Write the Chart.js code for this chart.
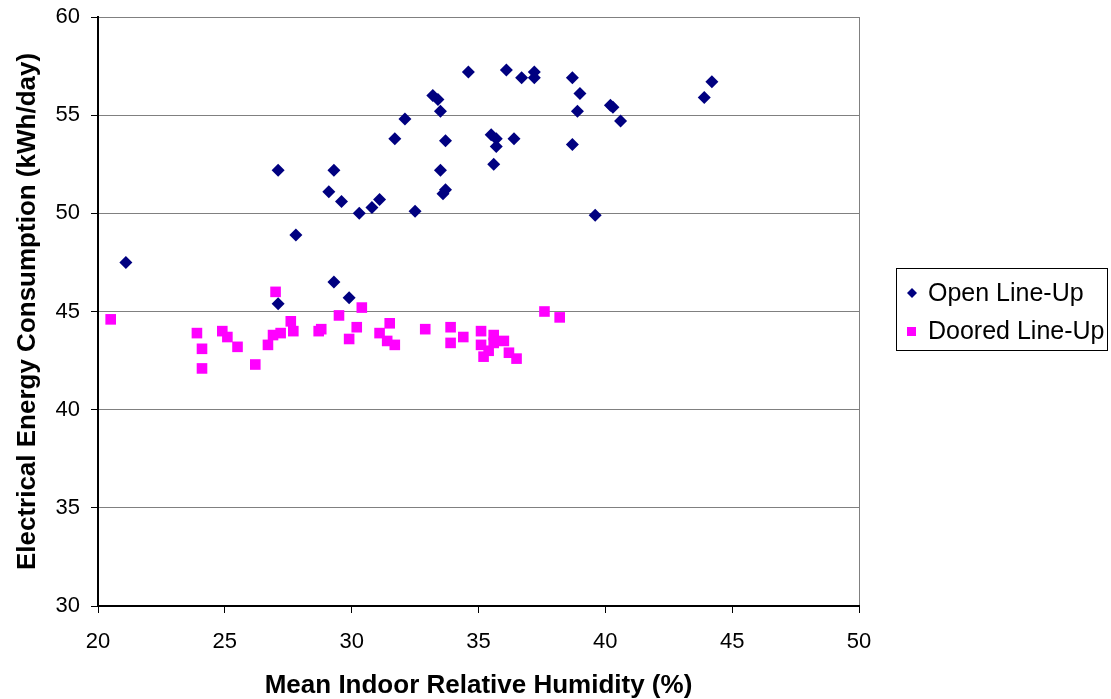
<!DOCTYPE html>
<html>
<head>
<meta charset="utf-8">
<script src="https://cdn.jsdelivr.net/npm/chart.js@4/dist/chart.umd.min.js"></script>
<style>
  html, body { margin: 0; padding: 0; background: #fff; }
  #wrap { width: 1111px; height: 699px; position: relative; }
</style>
</head>
<body>
<div id="wrap"><canvas id="grafico" width="1111" height="699"></canvas></div>
<script>
// dados
const openHumidity = [21.1, 27.1, 27.1, 27.8, 29.1, 29.3, 29.6, 29.3, 29.9, 30.3, 30.8, 31.1, 31.7, 32.1, 32.5,
  33.2, 33.4, 33.5, 33.7, 33.5, 33.7, 33.6, 34.6, 35.5, 35.7, 35.7, 35.6, 36.4, 36.1, 36.7, 37.2, 37.2,
  38.7, 39.0, 38.9, 38.7, 39.6, 40.2, 40.3, 40.6, 43.9, 44.2];
const openEnergy = [47.5, 52.2, 45.4, 48.9, 51.1, 52.2, 50.6, 46.5, 45.7, 50.0, 50.3, 50.7, 53.8, 54.8, 50.1,
  56.0, 55.8, 55.2, 53.7, 52.2, 51.2, 51.0, 57.2, 54.0, 53.8, 53.4, 52.5, 53.8, 57.3, 56.9, 57.2, 56.9,
  56.9, 56.1, 55.2, 53.5, 49.9, 55.5, 55.4, 54.7, 55.9, 56.7];

const dooredHumidity = [20.5, 23.9, 24.1, 24.1, 24.9, 25.1, 25.5, 26.2, 26.7, 26.9, 27.0, 27.2, 27.6, 27.7,
  28.7, 28.8, 29.5, 29.9, 30.2, 30.4, 31.1, 31.5, 31.4, 31.7, 32.9, 33.9, 33.9, 34.4, 35.1, 35.1, 35.2,
  35.4, 35.6, 35.6, 36.0, 36.2, 36.5, 37.6, 38.2];
const dooredEnergy = [44.6, 43.9, 43.1, 42.1, 44.0, 43.7, 43.2, 42.3, 43.3, 43.8, 46.0, 43.9, 44.5, 44.0,
  44.0, 44.1, 44.8, 43.6, 44.2, 45.2, 43.9, 44.4, 43.5, 43.3, 44.1, 44.2, 43.4, 43.7, 44.0, 43.3, 42.7,
  43.0, 43.8, 43.4, 43.5, 42.9, 42.6, 45.0, 44.7];

const seriesNames = ['Open Line-Up', 'Doored Line-Up'];
const xTicks = [20, 25, 30, 35, 40, 45, 50];
const yTicks = [30, 35, 40, 45, 50, 55, 60];

const FONTE = "'Liberation Sans', Arial, sans-serif";
const corOpen = '#000080';
const corDoored = '#FF00FF';

function pares(xs, ys) {
    return xs.map((x, i) => ({ x: x, y: ys[i] }));
}

// legenda com moldura, desenhada à mão no canvas
const legendaCaixa = {
    id: 'legendaCaixa',
    afterDraw(chart) {
        const ctx = chart.ctx;
        ctx.save();
        ctx.strokeStyle = '#000';
        ctx.lineWidth = 1;
        ctx.strokeRect(896.5, 268.5, 211, 82);

        ctx.fillStyle = corOpen;
        ctx.beginPath();
        ctx.moveTo(912, 288); ctx.lineTo(917, 293); ctx.lineTo(912, 298); ctx.lineTo(907, 293);
        ctx.closePath();
        ctx.fill();

        ctx.fillStyle = corDoored;
        ctx.fillRect(907, 327, 9, 9);

        ctx.fillStyle = '#000';
        ctx.font = '25px ' + FONTE;
        ctx.textBaseline = 'middle';
        ctx.textAlign = 'left';
        ctx.fillText(seriesNames[0], 928, 294);
        ctx.fillText(seriesNames[1], 928, 332);
        ctx.restore();
    }
};

const ctx = document.getElementById('grafico');
new Chart(ctx, {
    type: 'scatter',
    data: {
        datasets: [
            { label: seriesNames[0], data: pares(openHumidity, openEnergy), pointStyle: 'rectRot',
              pointRadius: 6.5, pointHoverRadius: 6.5, backgroundColor: corOpen, borderWidth: 0 },
            { label: seriesNames[1], data: pares(dooredHumidity, dooredEnergy), pointStyle: 'rect',
              pointRadius: 7.5, pointHoverRadius: 7.5, backgroundColor: corDoored, borderWidth: 0 }
        ]
    },
    options: {
        responsive: false,
        animation: false,
        events: [],
        layout: { padding: { left: 15, top: 17, right: 252, bottom: 0 } },
        plugins: { legend: { display: false }, tooltip: { enabled: false } },
        scales: {
            x: {
                type: 'linear', min: 20, max: 50,
                afterBuildTicks: s => { s.ticks = xTicks.map(v => ({ value: v })); },
                afterFit: s => { s.height = 93; s.paddingLeft = 0; s.paddingRight = 0; },
                ticks: { color: '#000', font: { family: FONTE, size: 22 }, padding: 16, maxRotation: 0 },
                grid: {
                    color: c => (c.tick && c.tick.value === 50 ? '#808080' : 'rgba(0,0,0,0)'),
                    tickColor: '#000', tickLength: 7, lineWidth: 1
                },
                border: { color: '#000', width: 2 },
                title: { display: true, text: 'Mean Indoor Relative Humidity (%)', color: '#000',
                         font: { family: FONTE, size: 26, weight: 'bold', lineHeight: 1 }, padding: 0 }
            },
            y: {
                type: 'linear', min: 30, max: 60,
                afterBuildTicks: s => { s.ticks = yTicks.map(v => ({ value: v })); },
                afterFit: s => { s.width = 83; s.paddingTop = 0; s.paddingBottom = 0; },
                ticks: { color: '#000', font: { family: FONTE, size: 22 }, padding: 11 },
                grid: { color: '#808080', tickColor: '#000', tickLength: 7, lineWidth: 1 },
                border: { color: '#000', width: 2 },
                title: { display: true, text: 'Electrical Energy Consumption (kWh/day)', color: '#000',
                         font: { family: FONTE, size: 26, weight: 'bold', lineHeight: 1 }, padding: 0 }
            }
        }
    },
    plugins: [legendaCaixa]
});
</script>
</body>
</html>
